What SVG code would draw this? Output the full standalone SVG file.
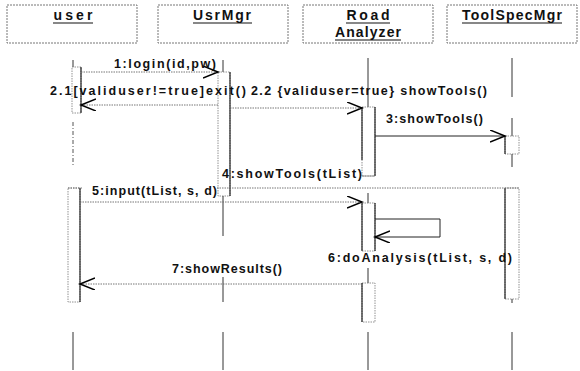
<svg xmlns="http://www.w3.org/2000/svg" width="580" height="371" viewBox="0 0 580 371">
<style>
  .bg{fill:#fff}
  .box{fill:#fff;stroke:#666;stroke-width:0.9;stroke-dasharray:2 1}
  .hd{font-family:"Liberation Sans",Arial,sans-serif;font-size:14px;font-weight:bold;fill:#111;text-anchor:middle}
  .ul{stroke:#111;stroke-width:1.2}
  .lbl{font-family:"Liberation Sans",Arial,sans-serif;font-size:12.5px;font-weight:bold;fill:#111}
  .life{stroke:#333;stroke-width:1;fill:none}
  .lifed{stroke:#555;stroke-width:1;fill:none;stroke-dasharray:4 2 1 2}
  .act{fill:#fff;stroke:#777;stroke-width:0.8;stroke-dasharray:1.5 1}
  .edge{stroke:#111;stroke-width:1.1;fill:none}
  .dot{stroke:#666;stroke-width:0.9;fill:none;stroke-dasharray:1.5 1}
  .sol{stroke:#222;stroke-width:1;fill:none}
</style>
<defs>
  <marker id="open" markerUnits="userSpaceOnUse" markerWidth="18" markerHeight="14" refX="15" refY="6" orient="auto">
    <path d="M0,0 L15,6 L0,12" fill="none" stroke="#000" stroke-width="1.5"/>
  </marker>
</defs>
<rect class="bg" x="0" y="0" width="580" height="371"/>

<g id="user">
  <rect class="box" x="7" y="5" width="130" height="38"/>
  <text class="hd" x="73" y="20" textLength="39" lengthAdjust="spacing">user</text>
  <line class="ul" x1="53" y1="23" x2="93" y2="23"/>
  <line class="life" x1="73" y1="60" x2="73" y2="67"/>
  <rect class="act" x="72" y="67" width="9" height="46"/>
  <line class="edge" x1="81" y1="67" x2="81" y2="113"/>
  <line class="lifed" x1="73" y1="122" x2="73" y2="167"/>
  <rect class="act" x="68" y="188" width="12" height="114"/>
  <line class="edge" x1="80" y1="188" x2="80" y2="302"/>
  <line class="life" x1="73" y1="332" x2="73" y2="370"/>
</g>

<g id="usrmgr">
  <rect class="box" x="158" y="5" width="130" height="38"/>
  <text class="hd" x="222" y="20" textLength="58" lengthAdjust="spacing">UsrMgr</text>
  <line class="ul" x1="193" y1="23" x2="252" y2="23"/>
  <line class="life" x1="223" y1="60" x2="223" y2="72"/>
  <rect class="act" x="218" y="72" width="12" height="124"/>
  <line class="edge" x1="230" y1="72" x2="230" y2="196"/>
  <line class="life" x1="223" y1="196" x2="223" y2="236"/>
  <line class="life" x1="223" y1="277" x2="223" y2="302"/>
  <line class="life" x1="223" y1="332" x2="223" y2="370"/>
</g>

<g id="roadanalyzer">
  <rect class="box" x="303" y="5" width="130" height="38"/>
  <text class="hd" x="368" y="20" textLength="43" lengthAdjust="spacing">Road</text>
  <line class="ul" x1="346" y1="23" x2="390" y2="23"/>
  <text class="hd" x="368" y="37" textLength="66" lengthAdjust="spacing">Analyzer</text>
  <line class="ul" x1="335" y1="40" x2="401" y2="40"/>
  <line class="life" x1="368" y1="58" x2="368" y2="107"/>
  <rect class="act" x="362" y="107" width="13" height="69"/>
  <line class="edge" x1="362" y1="107" x2="362" y2="160"/>
  <line class="edge" x1="375" y1="107" x2="375" y2="176"/>
  <line class="life" x1="368" y1="193" x2="368" y2="203"/>
  <rect class="act" x="362" y="203" width="13" height="48"/>
  <line class="edge" x1="362" y1="203" x2="362" y2="251"/>
  <line class="edge" x1="375" y1="203" x2="375" y2="251"/>
  <line class="life" x1="368" y1="268" x2="368" y2="283"/>
  <rect class="act" x="362" y="283" width="13" height="39"/>
  <line class="edge" x1="362" y1="283" x2="362" y2="322"/>
  <line class="life" x1="368" y1="332" x2="368" y2="370"/>
</g>

<g id="toolspecmgr">
  <rect class="box" x="447" y="5" width="130" height="38"/>
  <text class="hd" x="512" y="20" textLength="100" lengthAdjust="spacing">ToolSpecMgr</text>
  <line class="ul" x1="462" y1="23" x2="562" y2="23"/>
  <line class="life" x1="512" y1="58" x2="512" y2="97"/>
  <line class="life" x1="512" y1="118" x2="512" y2="136"/>
  <rect class="act" x="505" y="136" width="14" height="18"/>
  <line class="edge" x1="505" y1="136" x2="505" y2="154"/>
  <line class="life" x1="512" y1="154" x2="512" y2="167"/>
  <rect class="act" x="505" y="188" width="14" height="111"/>
  <line class="edge" x1="505" y1="188" x2="505" y2="299"/>
  <line class="life" x1="512" y1="299" x2="512" y2="303"/>
  <line class="life" x1="512" y1="332" x2="512" y2="370"/>
</g>

<g id="connectors">
  <line class="dot" x1="81" y1="72" x2="218" y2="72" marker-end="url(#open)"/>
  <line class="dot" x1="218" y1="105" x2="81" y2="105" marker-end="url(#open)"/>
  <line class="dot" x1="230" y1="108" x2="362" y2="108" marker-end="url(#open)"/>
  <line class="sol" x1="375" y1="136" x2="505" y2="136" marker-end="url(#open)"/>
  <polyline class="dot" points="362,176 375,176"/>
  <polyline class="dot" points="217,188 230,188 519,188"/>
  <polyline class="dot" points="68,188 82,188"/>
  <line class="dot" x1="80" y1="202" x2="362" y2="202" marker-end="url(#open)"/>
  <polyline class="sol" points="375,219 440,219 440,237 375,237" marker-end="url(#open)"/>
  <line class="dot" x1="362" y1="284" x2="80" y2="284" marker-end="url(#open)"/>
</g>

<g id="labels">
  <text class="lbl" x="114" y="68" textLength="102" lengthAdjust="spacing">1:login(id,pw)</text>
  <text class="lbl" x="50" y="95" textLength="196" lengthAdjust="spacing">2.1[validuser!=true]exit()</text>
  <text class="lbl" x="251" y="95" textLength="236" lengthAdjust="spacing">2.2 {validuser=true} showTools()</text>
  <text class="lbl" x="386" y="123" textLength="97" lengthAdjust="spacing">3:showTools()</text>
  <text class="lbl" x="222" y="178" textLength="140" lengthAdjust="spacing">4:showTools(tList)</text>
  <text class="lbl" x="92" y="195" textLength="125" lengthAdjust="spacing">5:input(tList, s, d)</text>
  <text class="lbl" x="328" y="262" textLength="184" lengthAdjust="spacing">6:doAnalysis(tList, s, d)</text>
  <text class="lbl" x="172" y="273" textLength="110" lengthAdjust="spacing">7:showResults()</text>
</g>
</svg>
